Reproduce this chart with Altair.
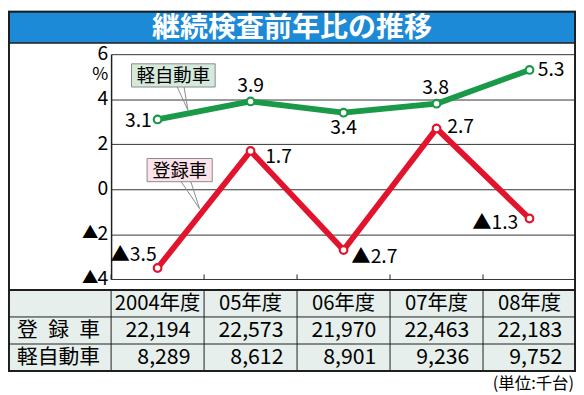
import altair as alt
import pandas as pd

# ---------------- data ----------------
years = ["2004年度", "05年度", "06年度", "07年度", "08年度"]
kei_pct = [3.1, 3.9, 3.4, 3.8, 5.3]          # 軽自動車 前年比(%)
toroku_pct = [-3.5, 1.7, -2.7, 2.7, -1.3]    # 登録車 前年比(%)
toroku_units = [22194, 22573, 21970, 22463, 22183]
kei_units = [8289, 8612, 8901, 9236, 9752]
y_ticks = [-4, -2, 0, 2, 4, 6]
series_names = ["軽自動車", "登録車"]
row_labels = ["登\u2002録\u2002車", "軽自動車"]
title_text = "継続検査前年比の推移"
unit_text = "(単位:千台)"
pct_unit = "%"
neg_mark = "▲"

# ---------------- layout helpers (reference px -> plot coords) ----------------
SX = 576 / 584
SY = 387 / 395
def X(rx):
    return (rx - 106) * SX
def Y(ry):
    return (ry - 45) * SY

PL = 106 * SX
PT = 45 * SY
W = 478 * SX
H = 233 * SY
PB = 387 - PT - H

FONT = "Noto Sans CJK JP"
GREEN = "#1a9a48"
RED = "#e2142d"
BLUE = "#1c8ad6"
DARK = "#1e1e1e"
TABLE_BG = "#e6efeb"

def fmt(v):
    return f"{neg_mark}{abs(v):.1f}" if v < 0 else f"{v:.1f}"

pct_df = pd.DataFrame({
    "year": years * 2,
    "series": [series_names[0]] * 5 + [series_names[1]] * 5,
    "pct": kei_pct + toroku_pct,
    "idx": list(range(5)) * 2,
})
pct_df["label"] = pct_df["pct"].map(fmt)

tick_df = pd.DataFrame({"tick": y_ticks})
tick_df["num"] = tick_df["tick"].map(lambda v: str(abs(v)))
tick_df["neg"] = tick_df["tick"].map(lambda v: neg_mark if v < 0 else "")
tick_df["year"] = years[0]

units_df = pd.DataFrame({
    "year": years * 2,
    "row": ["toroku"] * 5 + ["kei"] * 5,
    "units": toroku_units + kei_units,
})
year_df = pd.DataFrame({"year": years})
one = pd.DataFrame({"k": [0]})

x_scale = alt.Scale(type="band", domain=years, paddingInner=0, paddingOuter=0)
def xenc(bp=0.5):
    return alt.X("year:N", scale=x_scale, axis=None, bandPosition=bp)

y_scale = alt.Scale(domain=[-4, 6], nice=False, zero=False)
y_axis = alt.Axis(
    values=y_ticks, title=None, grid=True, gridColor="#333333", gridWidth=1,
    domain=True, domainColor=DARK, domainWidth=1.5, ticks=False, labels=False,
)
y_enc = alt.Y("pct:Q", scale=y_scale, axis=y_axis)
y_tick_enc = alt.Y("tick:Q", scale=y_scale, axis=y_axis)
stroke_enc = alt.Stroke("series:N", scale=alt.Scale(domain=series_names, range=[GREEN, RED]), legend=None)

layers = []

# title bar + frame
layers.append(alt.Chart(one).mark_rect(fill=BLUE).encode(
    x=alt.value(X(0)), x2=alt.value(X(584)), y=alt.value(Y(0)), y2=alt.value(Y(33.5))))
layers.append(alt.Chart(one).mark_text(font=FONT, fontSize=29 * SY, fontWeight="bold",
                                       color="white", align="center", baseline="middle").encode(
    x=alt.value(X(292)), y=alt.value(Y(18.5)), text=alt.value(title_text)))
layers.append(alt.Chart(one).mark_rule(color=DARK, strokeWidth=1.5).encode(
    x=alt.value(X(0)), x2=alt.value(X(584)), y=alt.value(Y(33.5))))

# table background
layers.append(alt.Chart(one).mark_rect(fill=TABLE_BG).encode(
    x=alt.value(X(0)), x2=alt.value(X(584)), y=alt.value(Y(289)), y2=alt.value(Y(373))))
# table horizontal lines
for ry, sw in [(289, 2), (317, 1), (345, 1)]:
    layers.append(alt.Chart(one).mark_rule(color=DARK, strokeWidth=sw).encode(
        x=alt.value(X(0)), x2=alt.value(X(584)), y=alt.value(Y(ry))))
# table vertical lines (at band starts)
layers.append(alt.Chart(year_df).mark_rule(color=DARK, strokeWidth=1).encode(
    x=xenc(0), y=alt.value(Y(289)), y2=alt.value(Y(373))))
# inward ticks on bottom axis
layers.append(alt.Chart(year_df).mark_rule(color=DARK, strokeWidth=1).encode(
    x=xenc(0), y=alt.value(H), y2=alt.value(H - 5 * SY)))
# frame
layers.append(alt.Chart(one).mark_rect(fillOpacity=0, stroke=DARK, strokeWidth=2).encode(
    x=alt.value(X(1)), x2=alt.value(X(583)), y=alt.value(Y(1)), y2=alt.value(Y(373))))

# y tick labels: digits, with a ▲ in front of negative values
layers.append(alt.Chart(tick_df).mark_text(font=FONT, fontSize=20 * SY, baseline="middle",
                                           align="right", color="black", dx=-3 * SX).encode(
    x=xenc(0), y=y_tick_enc, text="num:N"))
layers.append(alt.Chart(tick_df).mark_text(
    font=FONT, fontSize=17 * SY, baseline="middle", align="right", color="black",
    dx=-13 * SX, dy=-1).encode(
    x=xenc(0), y=y_tick_enc, text="neg:N"))

# table header
layers.append(alt.Chart(year_df).mark_text(font=FONT, fontSize=21 * SY, baseline="middle",
                                           align="center", color="black").encode(
    x=xenc(0.5), y=alt.value(Y(303.5)), text="year:N"))
# table rows
for key, ry, lab in [("toroku", 331.5, row_labels[0]), ("kei", 359.5, row_labels[1])]:
    layers.append(alt.Chart(units_df).transform_filter(alt.datum.row == key).mark_text(
        font=FONT, fontSize=22 * SY, baseline="middle", align="right", dx=-14 * SX,
        color="black").encode(
        x=xenc(1), y=alt.value(Y(ry)), text=alt.Text("units:Q", format=",")))
    layers.append(alt.Chart(one).mark_text(font=FONT, fontSize=21.5 * SY, baseline="middle",
                                           align="center", color="black").encode(
        x=alt.value(X(52)), y=alt.value(Y(ry)), text=alt.value(lab)))

# unit note
layers.append(alt.Chart(one).mark_text(font=FONT, fontSize=17 * SY, baseline="middle",
                                       align="right", color="black").encode(
    x=alt.value(X(582)), y=alt.value(Y(386)), text=alt.value(unit_text)))
# % label
layers.append(alt.Chart(one).mark_text(font=FONT, fontSize=18 * SY, baseline="middle",
                                       align="right", color="black").encode(
    x=alt.value(X(103)), y=alt.value(Y(67)), text=alt.value(pct_unit)))

# callouts
def callout(x1, x2, y1, y2, fill, text, wedge):
    out = [alt.Chart(one).mark_rect(fill=fill, stroke="#8a8a8a", strokeWidth=1).encode(
        x=alt.value(X(x1)), x2=alt.value(X(x2)), y=alt.value(Y(y1)), y2=alt.value(Y(y2)))]
    (bx1, bx2, by, tx, ty) = wedge
    for bx in (bx1, bx2):
        out.append(alt.Chart(one).mark_rule(color="#8a8a8a", strokeWidth=1).encode(
            x=alt.value(X(bx)), x2=alt.value(X(tx)), y=alt.value(Y(by)), y2=alt.value(Y(ty))))
    out.append(alt.Chart(one).mark_text(font=FONT, fontSize=19 * SY, baseline="middle",
                                        align="center", color="black").encode(
        x=alt.value(X((x1 + x2) / 2)), y=alt.value(Y((y1 + y2) / 2 + 0.5)), text=alt.value(text)))
    return out

layers += callout(127, 213, 55, 79, "#d6eadc", series_names[0], (174, 181, 79, 185, 103))
layers += callout(143, 210, 153, 177, "#fce3ea", series_names[1], (178, 188, 177, 197, 205))

# lines and points
layers.append(alt.Chart(pct_df).mark_line(strokeWidth=6 * SY, strokeJoin="round").encode(
    x=xenc(0.5), y=y_enc, stroke=stroke_enc, detail="series:N"))
layers.append(alt.Chart(pct_df).mark_point(shape="circle", filled=True, fill="white",
                                           size=60, strokeWidth=2.2, opacity=1).encode(
    x=xenc(0.5), y=y_enc, stroke=stroke_enc))

# value labels (align, dx, dy) in reference px
label_style = {
    series_names[0]: [("right", -6, 2), ("center", 0, -15.5), ("center", 0, 16),
                      ("center", -1, -16), ("left", 8.5, 0)],
    series_names[1]: [("right", -1, -13.5), ("left", 15, 6), ("left", 8, 7),
                      ("left", 11, -1), ("right", -11.5, 5)],
}
for sname, styles in label_style.items():
    for i, (al, dx, dy) in enumerate(styles):
        layers.append(alt.Chart(pct_df).transform_filter(
            (alt.datum.series == sname) & (alt.datum.idx == i)).mark_text(
            font=FONT, fontSize=20 * SY, baseline="middle", align=al,
            dx=dx * SX, dy=dy * SY, color="black").encode(
            x=xenc(0.5), y=y_enc, text="label:N"))

chart = alt.layer(*layers).properties(
    width=W, height=H,
    padding={"left": PL, "top": PT, "right": 0, "bottom": PB},
    autosize=alt.AutoSizeParams(type="none"),
    background="white",
).configure_view(stroke=None)

chart.save("out.html", embed_options={"renderer": "svg", "actions": False})
